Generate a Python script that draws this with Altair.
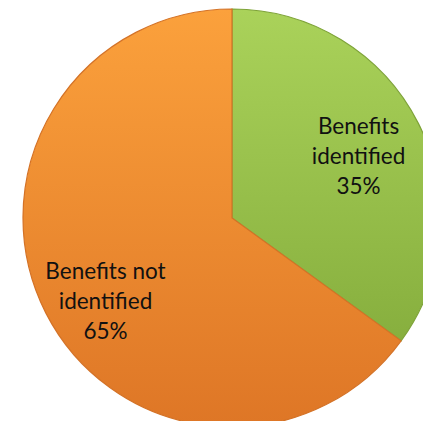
import altair as alt
import pandas as pd

categories = ["Benefits identified", "Benefits not identified"]
values = [35, 65]
order = [0, 1]

def make_label(cat, v):
    head, tail = cat.rsplit(" ", 1)
    return f"{head}\n{tail}\n{v}%"

df = pd.DataFrame({
    "category": categories,
    "value": values,
    "order": order,
    "label": [make_label(c, v) for c, v in zip(categories, values)],
})

green_grad = {
    "gradient": "linear", "x1": 0, "y1": 0, "x2": 0, "y2": 1,
    "stops": [{"offset": 0, "color": "#AAD25A"}, {"offset": 1, "color": "#87AF3E"}],
}
orange_grad = {
    "gradient": "linear", "x1": 0, "y1": 0, "x2": 0, "y2": 1,
    "stops": [{"offset": 0, "color": "#FBA13C"}, {"offset": 1, "color": "#DE7626"}],
}

is_green = alt.datum.category == categories[0]
is_orange = alt.datum.category == categories[1]

base = alt.Chart(df).encode(
    theta=alt.Theta("value:Q", stack=True),
    order=alt.Order("order:Q"),
    x=alt.value(224),
    y=alt.value(210),
)

pie = base.mark_arc(outerRadius=209, strokeWidth=1.2).encode(
    fill=alt.condition(is_green, alt.value(green_grad), alt.value(orange_grad)),
    stroke=alt.condition(is_green, alt.value("#7EA338"), alt.value("#D47226")),
)

text_style = dict(
    radius=142, font="Lato", fontSize=22.5, lineBreak="\n", lineHeight=30,
    color="#111111", align="center", baseline="middle",
)

text_green = base.mark_text(**text_style, dy=-27).encode(
    text=alt.condition(is_green, alt.Text("label:N"), alt.value("")),
)
text_orange = base.mark_text(**text_style, dy=-10).encode(
    text=alt.condition(is_orange, alt.Text("label:N"), alt.value("")),
)

chart = (pie + text_green + text_orange).properties(
    width=415, height=413, padding=0,
    autosize=alt.AutoSizeParams(type="none"),
).configure_view(stroke=None)

chart.save("out.html", embed_options={"renderer": "svg", "actions": False})
